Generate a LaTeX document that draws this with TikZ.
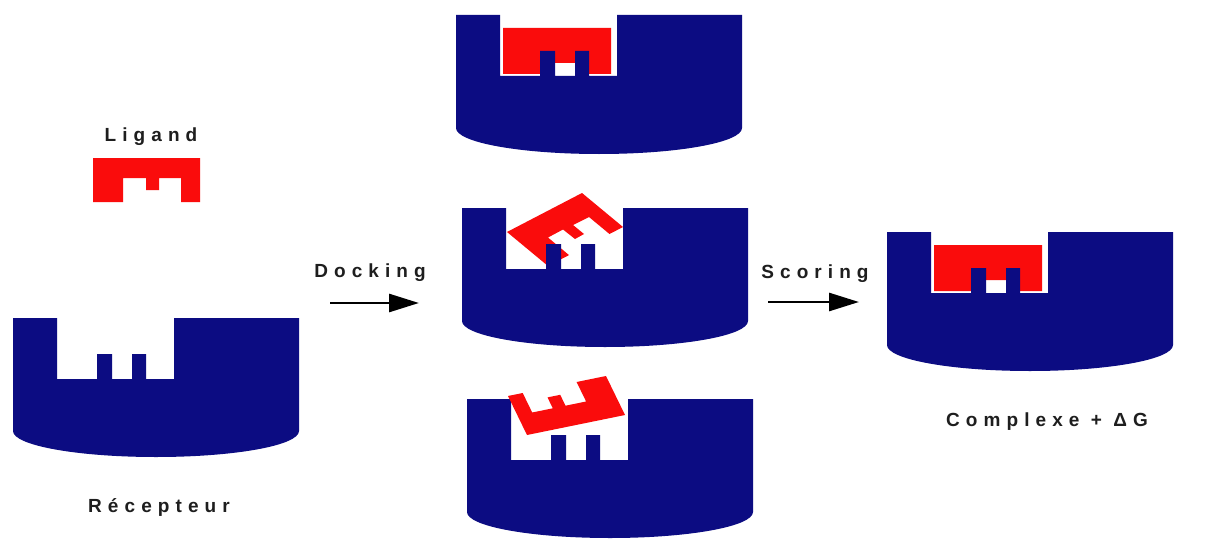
\documentclass[tikz,border=0pt]{standalone}
\usepackage{fontspec}
\setmainfont{Liberation Sans}
\newfontfamily\lblfont[LetterSpace=32]{Liberation Sans}
\usetikzlibrary{arrows.meta}
\definecolor{recblue}{RGB}{12,12,130}
\definecolor{ligred}{RGB}{250,12,12}
\definecolor{txtcol}{RGB}{30,30,30}
\tikzset{
  recfill/.style={fill=recblue},
  ligfill/.style={fill=ligred},
  lbl/.style={font=\lblfont\bfseries\fontsize{19}{22}\selectfont, text=txtcol, inner sep=0pt},
  flowarrow/.style={draw=black, line width=2.8pt, -{Triangle[length=30pt,width=18pt]}}
}
\newcommand\receptorshape[2]{%
  \fill[recfill,shift={(#1,#2)}] (0,0) -- (44,0) -- (44,61) -- (84,61) -- (84,36) -- (99,36) -- (99,61)
    -- (119,61) -- (119,36) -- (133,36) -- (133,61) -- (161,61) -- (161,0) -- (286,0) -- (286,113)
    .. controls (286,127.4) and (222,139) .. (143,139)
    .. controls (64,139) and (0,127.4) .. (0,113) -- cycle;}
\newcommand\fittedligand[2]{%
  \fill[ligfill,shift={(#1,#2)}] (47,13) -- (155,13) -- (155,59) -- (132,59) -- (132,36) -- (119,36)
    -- (119,48) -- (99,48) -- (99,36) -- (86,36) -- (86,59) -- (47,59) -- cycle;}
\begin{document}
\begin{tikzpicture}[x=1pt,y=-1pt]
\useasboundingbox (0,0) rectangle (1213,551);
\fill[white] (0,0) rectangle (1213,551);

% free ligand
\fill[ligfill] (93,158) -- (200,158) -- (200,202) -- (181,202) -- (181,178) -- (159,178) -- (159,190)
  -- (146,190) -- (146,178) -- (123,178) -- (123,202) -- (93,202) -- cycle;
% receptor alone
\receptorshape{13}{318}

% top: fitted
\fittedligand{456}{15}
\receptorshape{456}{15}

% middle: rotated ligand
\fill[ligfill] (507,232) -- (582,193) -- (623,227) -- (609.5,234) -- (589,217) -- (573,225)
  -- (584,234) -- (575,239) -- (563,229.5) -- (548,237.5) -- (569,255.1) -- (548,266) -- cycle;
\receptorshape{462}{208}

% bottom: flipped ligand
\receptorshape{467}{399}
\fill[ligfill] (527,435) -- (625,415) -- (606,376) -- (576.6,382) -- (586.1,401.5) -- (565.5,405.7)
  -- (560.2,394.8) -- (547.5,397.4) -- (552.8,408.3) -- (532.2,412.5) -- (522.7,393) -- (508,396) -- cycle;

% complex
\fittedligand{887}{232}
\receptorshape{887}{232}

% labels
\node[lbl] (ligand) at (151,137) {Ligand};
\node[lbl] (recepteur) at (159,507) {Récepteur};
\node[lbl] (docking) at (370,273) {Docking};
\node[lbl] (scoring) at (815,274) {Scoring};
\node[lbl] (complexe) at (1047,422) {Complexe + ΔG};

% arrows
\coordinate (dA) at (330,303);
\coordinate (dB) at (419,303);
\draw[flowarrow] (dA) -- (dB);
\coordinate (sA) at (768,302);
\coordinate (sB) at (859,302);
\draw[flowarrow] (sA) -- (sB);
\end{tikzpicture}
\end{document}
